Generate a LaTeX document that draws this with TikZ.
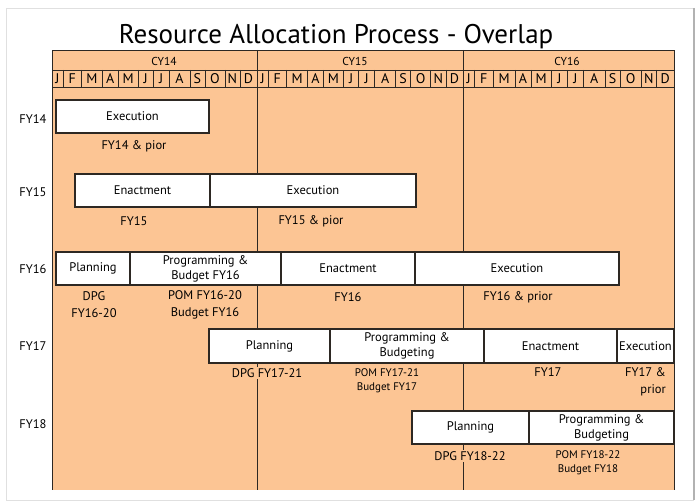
\documentclass[tikz,border=0pt]{standalone}
\usepackage{fontspec}
\setmainfont{PT Sans}
\usetikzlibrary{positioning}
\definecolor{peach}{RGB}{252,197,148}
\definecolor{rule}{RGB}{45,40,35}

\begin{document}
\begin{tikzpicture}[x=1pt,y=-1pt,
    phase/.style={draw=rule,fill=white,line width=1.1pt,minimum height=33pt,
      inner sep=0pt,outer sep=0pt,align=center,font=\fontsize{12.5}{15}\selectfont},
    note/.style={fill=peach,inner sep=1pt,align=center,font=\fontsize{12.5}{17}\selectfont},
    small/.style={note,font=\fontsize{11}{14}\selectfont},
    fy/.style={font=\fontsize{12.5}{15}\selectfont},
    cy/.style={inner sep=0pt,font=\fontsize{11.5}{12}\selectfont},
    month/.style={inner sep=0pt,font=\fontsize{14}{14}\selectfont}]

  \useasboundingbox (0,0) rectangle (697,502);
  \draw[black!12] (694,8) -- (6,8) -- (6,500) -- (694,500);
  \draw[black!30,line width=1.5pt] (694,8) -- (694,500);

  \node[anchor=base,font=\fontsize{27}{32}\selectfont] (title) at (336,44)
    {Resource Allocation Process - Overlap};

  % calendar grid
  \fill[peach] (52,50) rectangle (674,490);
  \draw[rule] (52,490) -- (52,50) -- (674,50) -- (674,490);
  \draw[rule] (52,70) -- (674,70);
  \draw[rule] (52,87) -- (674,87);
  \foreach \yr/\xa/\xb/\xc in {14/52/257/164, 15/257/463/355, 16/463/674/567} {
    \node[cy] (cy\yr) at (\xc,61) {CY\yr};
    \pgfmathsetmacro\k{(\xb-\xa)/204.6}
    \foreach \m/\a/\b [count=\i] in {J/0/11, F/11/29.3, M/29.3/50.3, A/50.3/65.9,
        M/65.9/85.9, J/85.9/100.9, J/100.9/116.9, A/116.9/137.6, S/137.6/152.6,
        O/152.6/172.6, N/172.6/187.6, D/187.6/204.6} {
      \node[month] (m\yr-\i) at ({\xa+(\a+\b)/2*\k},79) {\m};
      \draw[rule,line width=0.6pt] ({\xa+\b*\k},70) -- ++(0,17);
    }
  }
  \draw[rule,line width=1pt] (257,50) -- (257,490);
  \draw[rule,line width=1pt] (463,50) -- (463,490);

  % fiscal years
  \node[fy] (fy14) at (33,119) {FY14};
  \node[fy] (fy15) at (33,192) {FY15};
  \node[fy] (fy16) at (33,269) {FY16};
  \node[fy] (fy17) at (33,346) {FY17};
  \node[fy] (fy18) at (33,424) {FY18};

  % FY14
  \node[phase,minimum width=153pt,anchor=north west] (exec14) at (56,100) {Execution};
  \node[note] (lab14) at (134,146) {FY14 \& pior};

  % FY15
  \node[phase,minimum width=135pt,anchor=north west] (enact15) at (75,174) {Enactment};
  \node[phase,minimum width=206pt,right=0pt of enact15] (exec15) {Execution};
  \node[note] (lab15a) at (134,221) {FY15};
  \node[note] (lab15b) at (311,221) {FY15 \& pior};

  % FY16
  \node[phase,minimum width=74pt,anchor=north west] (plan16) at (56,252) {Planning};
  \node[phase,minimum width=151pt,right=0pt of plan16] (prog16) {Programming \&\\Budget FY16};
  \node[phase,minimum width=134pt,right=0pt of prog16] (enact16) {Enactment};
  \node[phase,minimum width=204pt,right=0pt of enact16] (exec16) {Execution};
  \node[note] (lab16a) at (94,305) {DPG\\FY16-20};
  \node[note] (lab16b) at (205,305) {POM FY16-20\\Budget FY16};
  \node[note] (lab16c) at (348,297) {FY16};
  \node[note] (lab16d) at (518,297) {FY16 \& prior};

  % FY17
  \node[phase,minimum width=121pt,minimum height=34pt,anchor=north west] (plan17) at (209,329) {Planning};
  \node[phase,minimum width=154pt,minimum height=34pt,right=0pt of plan17] (prog17) {Programming \&\\Budgeting};
  \node[phase,minimum width=133pt,minimum height=34pt,right=0pt of prog17] (enact17) {Enactment};
  \node[phase,minimum width=57pt,minimum height=34pt,right=0pt of enact17] (exec17) {Execution};
  \node[note] (lab17a) at (267,373) {DPG FY17-21};
  \node[small] (lab17b) at (387,381) {POM FY17-21\\Budget FY17};
  \node[note] (lab17c) at (548,372) {FY17};
  \node[note,align=right,anchor=east] (lab17d) at (667,382) {FY17 \&\\prior};

  % FY18
  \node[phase,minimum width=117pt,anchor=north west] (plan18) at (412,411) {Planning};
  \node[phase,minimum width=145pt,right=0pt of plan18] (prog18) {Programming \&\\Budgeting};
  \node[note] (lab18a) at (470,456) {DPG FY18-22};
  \node[small] (lab18b) at (588,463) {POM FY18-22\\Budget FY18};

\end{tikzpicture}
\end{document}
